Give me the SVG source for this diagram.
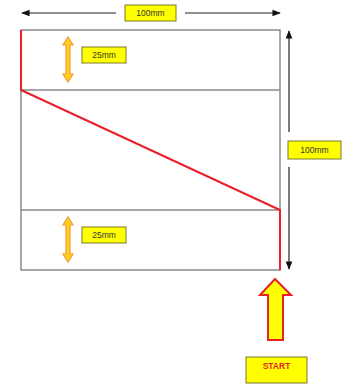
<svg xmlns="http://www.w3.org/2000/svg" width="343" height="385" viewBox="0 0 343 385">
<defs>
<style>
.frame{fill:none;stroke:#8a8a8a;stroke-width:1.5}
.dim{stroke:#222;stroke-width:1.2;fill:none}
.lbl{fill:#ffff00;stroke:#7a7a30;stroke-width:1}
.t{font-family:"Liberation Sans",Arial,sans-serif;font-size:8.5px;fill:#333;text-anchor:middle}
.cut{fill:none;stroke:#e8202a;stroke-width:2;stroke-linejoin:round}
.dbl{fill:#ffd21a;stroke:#f39a3a;stroke-width:1.2}
</style>
<marker id="ah" viewBox="0 0 10 10" refX="9" refY="5" markerWidth="7" markerHeight="7" orient="auto-start-reverse">
<path d="M0,1 L10,5 L0,9 Z" fill="#111"/>
</marker>
</defs>
<g id="frame">
<rect class="frame" x="21" y="30" width="259" height="240"/>
<line class="frame" x1="21" y1="90" x2="280" y2="90"/>
<line class="frame" x1="21" y1="210" x2="280" y2="210"/>
</g>
<g id="connectors">
<line class="dim" x1="116" y1="13" x2="22" y2="13" marker-end="url(#ah)"/>
<line class="dim" x1="185" y1="13" x2="280" y2="13" marker-end="url(#ah)"/>
<line class="dim" x1="289" y1="132" x2="289" y2="31" marker-end="url(#ah)"/>
<line class="dim" x1="289" y1="167" x2="289" y2="269" marker-end="url(#ah)"/>
<polyline class="cut" points="21,30 21,90 280,210 280,270"/>
</g>
<g id="label-width">
<rect class="lbl" x="125" y="5" width="51" height="16"/>
<text class="t" x="150.5" y="16">100mm</text>
</g>
<g id="label-height">
<rect class="lbl" x="288" y="141" width="53" height="18"/>
<text class="t" x="314.5" y="153">100mm</text>
</g>
<g id="top-25">
<path class="dbl" d="M68,37 L73,45 L70,45 L70,74 L73,74 L68,82 L63,74 L66,74 L66,45 L63,45 Z"/>
<rect class="lbl" x="82" y="47" width="44" height="16"/>
<text class="t" x="104" y="58">25mm</text>
</g>
<g id="bottom-25">
<path class="dbl" d="M68,217 L73,225 L70,225 L70,254 L73,254 L68,262 L63,254 L66,254 L66,225 L63,225 Z"/>
<rect class="lbl" x="82" y="227" width="44" height="16"/>
<text class="t" x="104" y="238">25mm</text>
</g>
<g id="start">
<path d="M275,279 L291,295 L283,295 L283,340 L268,340 L268,295 L260,295 Z" fill="#ffff00" stroke="#e8202a" stroke-width="2" stroke-linejoin="miter"/>
<rect class="lbl" x="246" y="357" width="61" height="26" stroke="#e0a030"/>
<text x="276.5" y="369" font-family="'Liberation Sans',Arial,sans-serif" font-size="8.5" font-weight="bold" fill="#e8202a" text-anchor="middle">START</text>
</g>
</svg>
